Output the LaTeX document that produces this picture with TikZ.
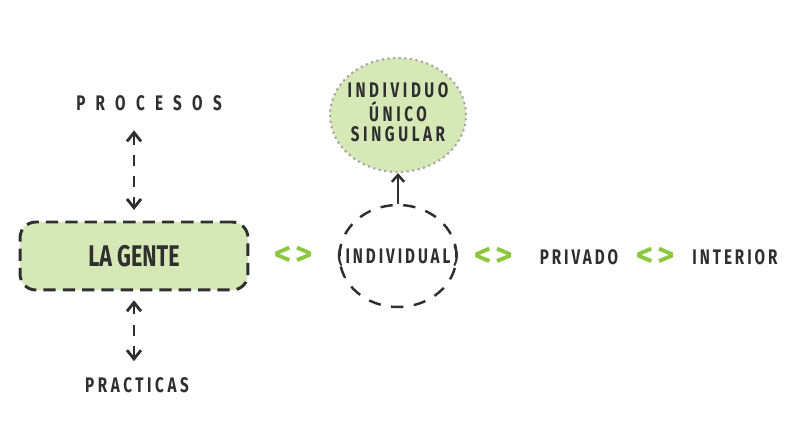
\documentclass[tikz,border=0pt]{standalone}
\usepackage{fontspec}
\setmainfont{Fira Sans}
\newfontfamily\condfont{Fira Sans}[FakeStretch=0.72]
\usepackage[HTML]{xcolor}
\usetikzlibrary{positioning, arrows.meta, shapes.geometric, calc}
\definecolor{leaf}{HTML}{D6E8B6}
\definecolor{chev}{HTML}{8DC63F}
\definecolor{ink}{HTML}{2F2F2F}
\newcommand{\lblfont}[1]{\condfont\bfseries\fontsize{12}{12}\selectfont\addfontfeatures{LetterSpace=#1}}
\tikzset{
  lbl/.style={text=ink, inner sep=1pt},
  dar/.style={{Straight Barb[length=5pt,width=8pt]}-{Straight Barb[length=5pt,width=8pt]},
    line width=1.6pt, ink, dash pattern=on 6pt off 6pt},
  sep/.style={font=\fontsize{19}{19}\selectfont\bfseries, text=chev, inner sep=0pt}
}
\begin{document}
\begin{tikzpicture}[x=0.02cm,y=-0.02cm]
\useasboundingbox (0,0) rectangle (788,431);
% main box
\node[lbl, draw=ink, fill=leaf, rounded corners=9pt, line width=1.7pt, dash pattern=on 7pt off 4pt,
  minimum width=4.56cm, minimum height=1.36cm, font=\condfont\bfseries\fontsize{17}{18}\selectfont] (gente) at (134,256) {LA GENTE};
\node[lbl, font=\lblfont{49}] (procesos) at (149,103) {PROCESOS};
\node[lbl, font=\lblfont{17}] (practicas) at (137,385) {PRACTICAS};
\draw[dar, shorten <=10pt, shorten >=6pt] (procesos.south -| gente.north) -- (gente.north);
\draw[dar, shorten <=5pt, shorten >=8pt] (gente.south) -- (practicas.north -| gente.south);
% circles
\node[lbl, ellipse, draw=ink, line width=1.4pt, dash pattern=on 7pt off 6pt,
  minimum width=2.34cm, minimum height=2.04cm, font=\lblfont{14}] (indiv) at (398,256)
  {\makebox[0pt]{(INDIVIDUAL)}};
\node[lbl, ellipse, draw=gray!70, fill=leaf, line width=1.2pt, dotted,
  minimum width=2.72cm, minimum height=2.28cm, font=\lblfont{17}] (unico) at (398,115)
  {\makebox[0pt]{\raisebox{-3pt}{\begin{tabular}{@{}c@{}}INDIVIDUO\\[-1pt]ÚNICO\\[-1pt]SINGULAR\end{tabular}}}};
\draw[-{Straight Barb[length=4pt,width=7pt]}, line width=1.4pt, ink] (indiv.north) -- (unico.south);
% chain
\node[lbl, font=\lblfont{14}] (privado) at (579,257) {PRIVADO};
\node[lbl, font=\lblfont{14}] (interior) at (735,257) {INTERIOR};
\node[sep] (sepa) at ($(gente.east)!0.5!(indiv.west)$) {<\hspace{2pt}>};
\node[sep] (sepb) at ($(indiv.east)!0.45!(privado.west)$) {<\hspace{2pt}>};
\node[sep] (sepc) at ($(privado.east)!0.5!(interior.west)$) {<\hspace{2pt}>};
\end{tikzpicture}
\end{document}
